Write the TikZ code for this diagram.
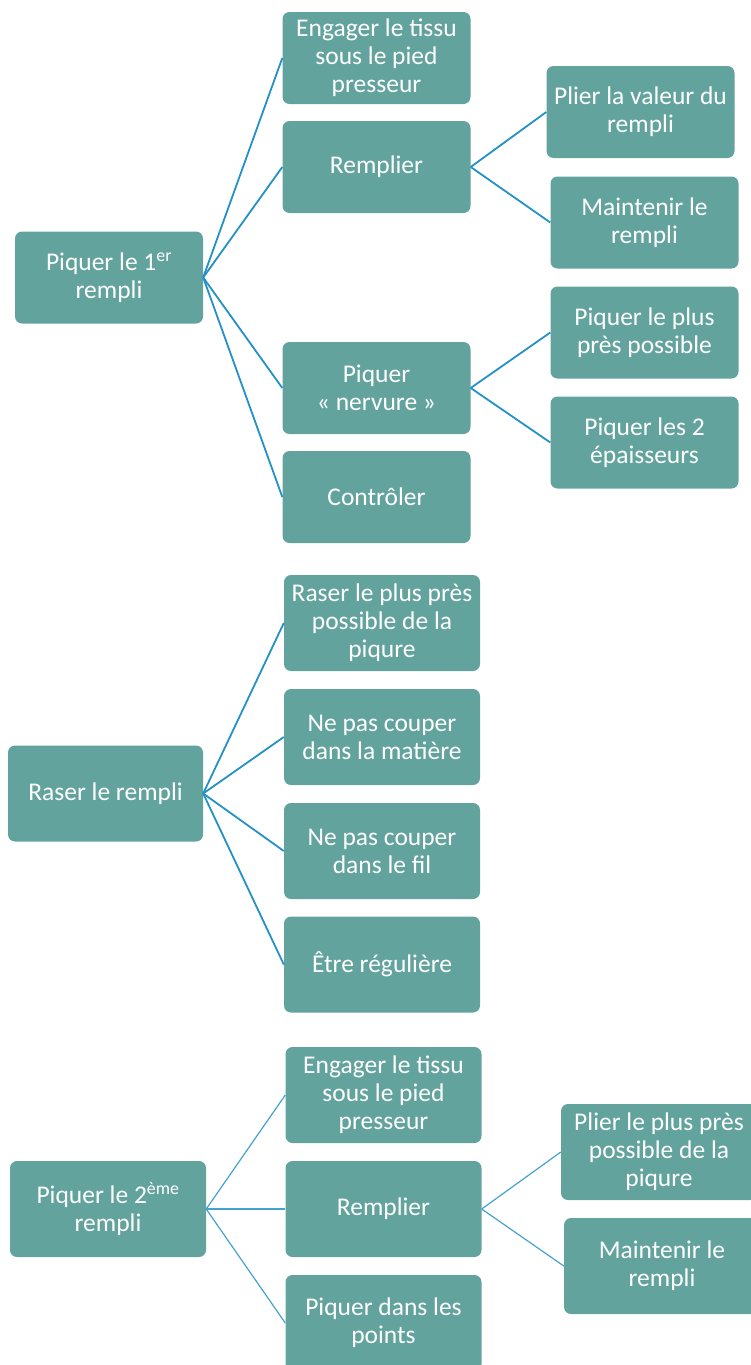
\documentclass[tikz,border=0pt]{standalone}
\usepackage{fontspec}
\setmainfont{Carlito}
\usepackage{xcolor}
\usepackage{tikz}
\usetikzlibrary{positioning}
\definecolor{boxteal}{HTML}{63A39E}
\definecolor{linkblue}{HTML}{2391C6}
\tikzset{node distance=267pt, auto}
\tikzset{
  box/.style={fill=boxteal, text=white, rounded corners=7pt, align=center,
    inner sep=0pt, minimum width=188pt, minimum height=92pt,
    font=\fontsize{25.5}{28}\selectfont},
  wbox/.style={box, minimum width=196pt, minimum height=96pt},
  link/.style={draw=linkblue, line width=1.8pt},
  thinlink/.style={draw=linkblue!85, line width=1.2pt}
}
\begin{document}
\begin{tikzpicture}[x=1pt, y=1pt]
			\useasboundingbox (0,0) rectangle (751,-1365);
			\clip (0,0) rectangle (751,-1365);
			% piquer le 1er rempli
			\node[box] (A) at (109,-277.5)	{Piquer le 1\textsuperscript{er}\\rempli};
			\node[box] (A1) [right of=A, xshift=0.5pt, yshift=219.5pt]	{Engager le tissu\\sous le pied\\presseur};
			\node[box] (A2) [right of=A, xshift=0.5pt, yshift=110.5pt]	{Remplier};
			\node[box] (A3) [right of=A, xshift=0.5pt, yshift=-110.5pt]	{Piquer\\« nervure  »};
			\node[box] (A4) [right of=A, xshift=0.5pt, yshift=-219.5pt]	{Contrôler};
			\node[box] (A21) [right of=A2, xshift=-3pt, yshift=55pt]	{Plier la valeur du\\rempli};
			\node[box] (A22) [right of=A2, xshift=1pt, yshift=-55.5pt]	{Maintenir le\\rempli};
			\node[box] (A31) [right of=A3, xshift=1pt, yshift=55.5pt]	{Piquer le plus\\près possible};
			\node[box] (A32) [right of=A3, xshift=1pt, yshift=-54.5pt]	{Piquer les 2\\épaisseurs};
			\foreach \k in {A1,A2,A3,A4}
				\draw[link]	(A.east)	to (\k.west);
			\draw[link]	(A2.east)	to (A21.west);
			\draw[link]	(A2.east)	to (A22.west);
			\draw[link]	(A3.east)	to (A31.west);
			\draw[link]	(A3.east)	to (A32.west);
			% raser le rempli
			\node[wbox, minimum width=195pt] (B) at (105.5,-793.5)	{Raser le rempli};
			\node[wbox] (B1) [right of=B, xshift=9.5pt, yshift=170.5pt]	{Raser le plus près\\possible de la\\piqure};
			\node[wbox] (B2) [right of=B, xshift=9.5pt, yshift=56.5pt]	{Ne pas couper\\dans la matière};
			\node[wbox] (B3) [right of=B, xshift=9.5pt, yshift=-57.5pt]	{Ne pas couper\\dans le fil};
			\node[wbox] (B4) [right of=B, xshift=9.5pt, yshift=-171pt]	{Être régulière};
			\foreach \k in {B1,B2,B3,B4}
				\draw[link]	(B.east)	to (\k.west);
			% piquer le 2eme rempli
			\node[wbox] (C) at (108,-1209)	{Piquer le 2\textsuperscript{ème}\\rempli};
			\node[wbox] (C1) [right of=C, xshift=8.5pt, yshift=114pt]	{Engager le tissu\\sous le pied\\presseur};
			\node[wbox] (C2) [right of=C, xshift=8.5pt]	{Remplier};
			\node[wbox] (C3) [right of=C, xshift=8.5pt, yshift=-114pt]	{Piquer dans les\\points};
			\node[wbox] (C21) [right of=C2, xshift=8.5pt, yshift=57pt]	{Plier le plus près\\possible de la\\piqure};
			\node[wbox] (C22) [right of=C2, xshift=11.5pt, yshift=-57pt]	{Maintenir le\\rempli};
			\foreach \k in {C1,C2,C3}
				\draw[thinlink]	(C.east)	to (\k.west);
			\draw[thinlink]	(C2.east)	to (C21.west);
			\draw[thinlink]	(C2.east)	to (C22.west);
\end{tikzpicture}
\end{document}
